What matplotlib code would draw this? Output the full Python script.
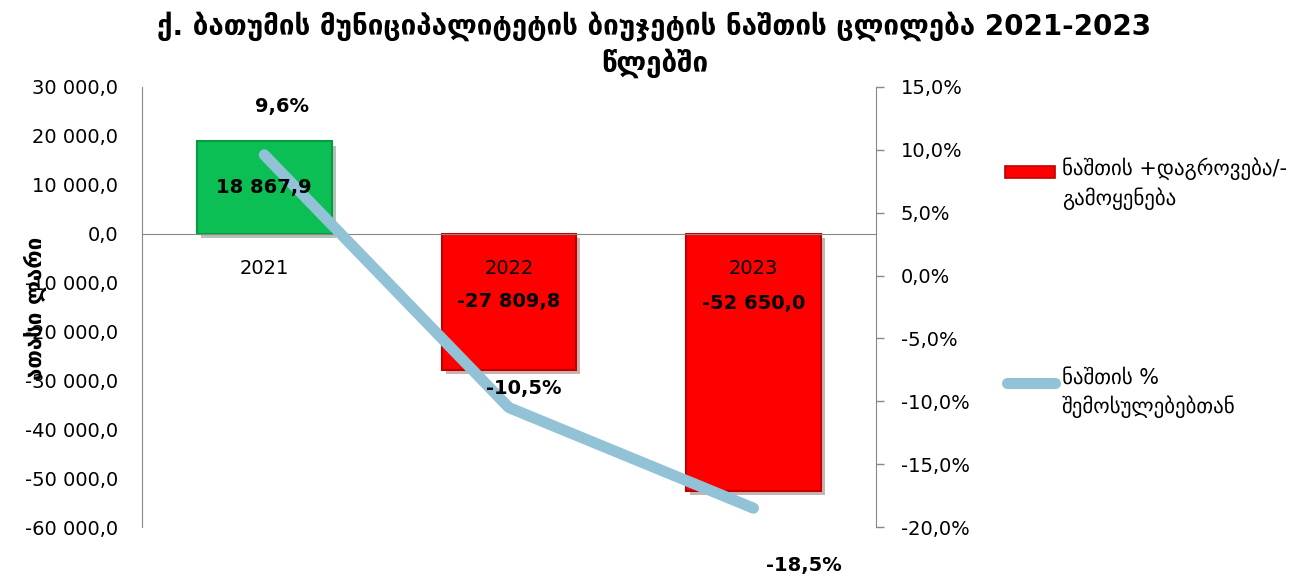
import matplotlib
matplotlib.use('Agg')
from matplotlib import pyplot as plt, rcParams
from matplotlib.lines import Line2D
from matplotlib.patches import Rectangle
import matplotlib.patheffects as pe
from matplotlib.ticker import FuncFormatter

rcParams['font.family'] = ['DejaVu Sans']

# 数据
years = ['2021', '2022', '2023']
balance = [18867.9, -27809.8, -52650.0]        # ათასი ლარი
balance_pct = [9.6, -10.5, -18.5]             # % შემოსულებებთან
balance_lbl = ['18 867,9', '-27 809,8', '-52 650,0']
pct_lbl = ['9,6%', '-10,5%', '-18,5%']

bar_colors = ['#0BBF55', '#FF0000', '#FF0000']
edge_colors = ['#079A42', '#C00000', '#C00000']
line_color = '#92C2D6'


def fmt_num(v, pos):
    return '{:,.1f}'.format(v).replace(',', ' ').replace('.', ',')


def fmt_pct(v, pos):
    return '{:.1f}%'.format(v).replace('.', ',')


fig = plt.figure(figsize=(13.09, 5.76), dpi=100)
ax = fig.add_axes([0.1085, 0.085, 0.5605, 0.764])
x = list(range(len(years)))

ax.bar(x, balance, width=0.55, color=bar_colors, edgecolor=edge_colors,
       linewidth=1.5, zorder=2,
       path_effects=[pe.SimplePatchShadow(offset=(3, -3), alpha=0.3), pe.Normal()])
ax.set_axisbelow(False)
ax.set_ylim(-60000, 30000)
ax.set_xlim(-0.5, 2.5)
ax.set_yticks(range(-60000, 30001, 10000))
ax.yaxis.set_major_formatter(FuncFormatter(fmt_num))
ax.tick_params(axis='y', length=0, pad=17, labelsize=14)

# x轴在0处
ax.spines['bottom'].set_position(('data', 0))
ax.spines['bottom'].set_color('#888888')
ax.spines['left'].set_color('#888888')
ax.spines['top'].set_visible(False)
ax.spines['right'].set_visible(False)
ax.set_xticks(x)
ax.set_xticklabels(years)
ax.tick_params(axis='x', length=0, pad=18, labelsize=14)

# 右轴 百分比
ax2 = ax.twinx()
ax2.set_ylim(-20, 15)
ax2.set_yticks(range(-20, 16, 5))
ax2.yaxis.set_major_formatter(FuncFormatter(fmt_pct))
ax2.tick_params(axis='y', length=6, width=1, color='#888888', pad=12, labelsize=14)
for s in ['top', 'bottom', 'left']:
    ax2.spines[s].set_visible(False)
ax2.spines['right'].set_color('#888888')
ax2.plot(x, balance_pct, color=line_color, linewidth=8, solid_capstyle='round', zorder=3)

# 数据标签
bar_lbl_y = [balance[0] / 2, balance[1] / 2, -14300]
for i in x:
    yy = ax2.transData.inverted().transform(ax.transData.transform((i, bar_lbl_y[i])))[1]
    ax2.text(i, yy, balance_lbl[i], ha='center', va='center', fontsize=14,
             fontweight='bold', zorder=6)

pct_offsets = [(13, 35), (11, 14), (36, -41)]
for i in x:
    ax2.annotate(pct_lbl[i], (i, balance_pct[i]), xytext=pct_offsets[i], textcoords='offset points',
                 ha='center', va='center', fontsize=14, fontweight='bold', annotation_clip=False,
                 zorder=6)

fig.text(0.5, 0.98, 'ქ. ბათუმის მუნიციპალიტეტის ბიუჯეტის ნაშთის ცლილება 2021-2023\nწლებში',
         ha='center', va='top', fontsize=20, fontweight='bold', linespacing=1.3)
fig.text(0.027, 0.465, 'ათასი ლარი', rotation=90, ha='center', va='center',
         fontsize=16, fontweight='bold')

# 图例
fig.add_artist(Rectangle((0.768, 0.691), 0.038, 0.021, transform=fig.transFigure,
                         facecolor='#FF0000', edgecolor='#C00000', linewidth=1.2))
fig.text(0.811, 1 - 157 / 576, 'ნაშთის +დაგროვება/-\nგამოყენება', ha='left', va='top',
         fontsize=15, linespacing=1.45)
fig.add_artist(Line2D([0.769, 0.806], [0.335, 0.335], transform=fig.transFigure,
                      color=line_color, linewidth=8, solid_capstyle='round'))
fig.text(0.811, 1 - 368 / 576, 'ნაშთის %\nშემოსულებებთან', ha='left', va='top',
         fontsize=15, linespacing=1.45)

plt.savefig('out.png', dpi=100)
